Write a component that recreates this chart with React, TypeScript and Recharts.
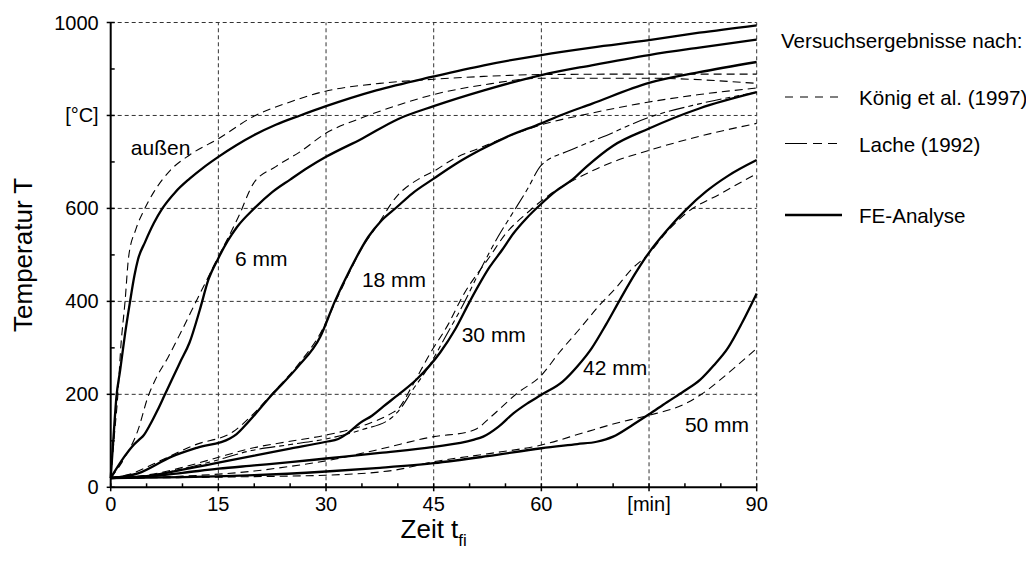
import {
  LineChart,
  Line,
  XAxis,
  YAxis,
  ReferenceLine,
  ReferenceDot,
  Legend,
  Label,
} from "recharts";

type Pt = [number, number];

// Zeit t [min] / Temperatur T [°C]
const feAussen: Pt[] = [[0, 20], [0.4, 110], [0.8, 195], [1.3, 250], [2, 330], [2.7, 400], [3.3, 455], [3.8, 490], [4.8, 528], [6, 568], [7.2, 600], [9, 635], [11, 664], [13, 689], [15, 711], [17.5, 736], [20, 758], [23, 780], [26.4, 800], [30, 820], [37, 854], [45, 884], [52, 908], [60, 930], [67, 946], [75, 962], [82, 978], [90, 994]];
const koenigAussen: Pt[] = [[0, 20], [0.5, 110], [1, 200], [1.4, 300], [2, 400], [2.5, 496], [3.5, 555], [4.6, 595], [6, 635], [8.3, 682], [11, 715], [15, 750], [19.9, 798], [25, 829], [29.6, 851], [37.5, 869], [45, 878], [52, 884], [60, 888], [75, 889], [90, 889]];

const fe6: Pt[] = [[0, 20], [1, 45], [2, 68], [3, 88], [4, 103], [4.6, 112], [5.5, 135], [6.5, 165], [7.5, 198], [8.5, 231], [9.7, 270], [11, 312], [12.4, 381], [13.6, 446], [15, 493], [16.3, 530], [17.6, 560], [20, 600], [22.5, 635], [25, 662], [27.5, 688], [30, 711], [35, 750], [40, 792], [45, 820], [52, 854], [60, 887], [67, 908], [75, 930], [82, 946], [90, 963]];
const koenig6: Pt[] = [[0, 20], [2, 65], [3.8, 123], [5.2, 195], [6.2, 231], [8, 280], [9.7, 331], [12, 403], [15, 496], [17.8, 582], [19.9, 654], [23, 690], [26.4, 722], [29.9, 761], [35, 795], [40, 822], [45, 845], [52, 866], [60, 880], [75, 880], [90, 869]];

const fe18: Pt[] = [[0, 20], [3.8, 30], [8.5, 66], [12, 85], [16.6, 105], [17.5, 114], [19.2, 141], [22.4, 198], [26, 258], [29.2, 324], [31.2, 399], [33.3, 467], [35.9, 539], [37.8, 575], [39.8, 602], [42, 632], [45, 664], [48, 695], [51.4, 725], [55.2, 754], [60, 783], [62.6, 800], [67, 825], [75, 870], [82, 893], [90, 915]];
const koenig18: Pt[] = [[0, 20], [3, 30], [6.6, 55], [11.7, 91], [17.1, 120], [19.5, 152], [22.4, 200], [26, 262], [29.2, 331], [31.5, 405], [33.5, 470], [35, 515], [37, 560], [39.8, 625], [43.1, 665], [45, 680], [47.7, 706], [51.4, 730], [55.2, 754], [59.8, 779], [67, 805], [75, 829], [82, 845], [90, 859]];

const fe30: Pt[] = [[0, 20], [5, 24], [10, 38], [15, 53], [20, 68], [25, 83], [30, 98], [31.7, 104], [33, 116], [34.7, 138], [36.4, 154], [38, 174], [40.3, 202], [42.6, 232], [45.9, 290], [48, 340], [50, 399], [52.8, 474], [54.5, 510], [56.1, 546], [58, 580], [60, 610], [62, 637], [64.4, 663], [66.3, 690], [70, 735], [75, 772], [82, 815], [90, 850]];
const koenig30: Pt[] = [[0, 20], [4, 24], [8.5, 37], [14, 60], [19.6, 84], [25, 99], [29.9, 112], [35.4, 134], [39.1, 159], [40, 168], [42, 218], [44.5, 288], [47, 350], [49.1, 413], [52.8, 496], [55, 545], [58, 590], [61, 628], [65.4, 668], [70, 700], [75, 725], [82, 755], [90, 783]];
const lache30: Pt[] = [[0, 20], [4, 23], [8, 33], [14, 55], [19.6, 79], [25, 92], [30, 104], [35, 124], [39, 148], [40.5, 172], [42, 208], [44, 252], [46.5, 320], [49, 390], [51.7, 474], [54, 540], [56, 590], [58, 640], [60, 693], [64, 725], [68.6, 754], [75, 796], [82, 825], [90, 850]];

const fe42: Pt[] = [[0, 20], [5, 23], [10, 31], [15, 40], [20, 47], [25, 54], [30, 62], [37.5, 74], [45, 87], [50.5, 102], [51.9, 109], [54, 130], [56.1, 159], [58, 180], [60, 199], [63, 228], [65, 260], [67, 299], [69, 350], [71, 405], [73, 458], [75, 505], [77.5, 553], [80.2, 598], [83, 637], [86, 670], [90, 704]];
const koenig42: Pt[] = [[0, 20], [10, 24], [20, 35], [25, 45], [30, 57], [37.5, 82], [45, 109], [50, 120], [51, 126], [53, 152], [56.6, 202], [60, 241], [62.5, 290], [65.4, 342], [68, 390], [70.5, 431], [72.5, 468], [75, 503], [77.5, 550], [80.2, 590], [85, 632], [90, 675]];

const fe50: Pt[] = [[0, 20], [10, 22], [20, 26], [30, 34], [37.5, 42], [45, 52], [52.5, 67], [60, 84], [65, 93], [67.7, 98], [70, 109], [72.5, 132], [75, 157], [77.5, 183], [79.8, 206], [82.1, 231], [84, 262], [86, 300], [88, 355], [90, 417]];
const koenig50: Pt[] = [[0, 20], [10, 21], [20, 23], [29.9, 26], [39.6, 37], [45, 55], [52.5, 72], [60, 91], [66, 118], [70, 136], [72.3, 145], [75, 155], [80.2, 181], [82.1, 198], [84.9, 231], [87.5, 265], [90, 299]];

// curve labels (text start / baseline in data units)
const curveNames = ["außen", "6 mm", "18 mm", "30 mm", "42 mm", "50 mm"];
const curveTimes = [2.8, 17.3, 35.0, 48.9, 65.8, 80.0];
const curveTemps = [715, 476, 431, 313, 241, 120];

const xTicks = [0, 5, 10, 15, 20, 25, 30, 35, 40, 45, 50, 55, 60, 65, 70, 75, 80, 85, 90];
const yTicks = [0, 100, 200, 300, 400, 500, 600, 700, 800, 900, 1000];
const xGrid = [15, 30, 45, 60, 75, 90];
const yGrid = [200, 400, 600, 800, 1000];

const legendTitle = "Versuchsergebnisse nach:";
const legendNames = ["König et al. (1997)", "Lache (1992)", "FE-Analyse"];

const FONT = "'Liberation Sans', Arial, sans-serif";
const KOENIG_DASH = "8 5";
const LACHE_DASH = "16 4 5 4 5 4";

const toRows = (pts: Pt[]) => pts.map(([t, T]) => ({ t, T }));

const series = [
  { id: "koenigAussen", pts: koenigAussen, kind: "koenig" },
  { id: "koenig6", pts: koenig6, kind: "koenig" },
  { id: "koenig18", pts: koenig18, kind: "koenig" },
  { id: "koenig30", pts: koenig30, kind: "koenig" },
  { id: "koenig42", pts: koenig42, kind: "koenig" },
  { id: "koenig50", pts: koenig50, kind: "koenig" },
  { id: "lache30", pts: lache30, kind: "lache" },
  { id: "feAussen", pts: feAussen, kind: "fe" },
  { id: "fe6", pts: fe6, kind: "fe" },
  { id: "fe18", pts: fe18, kind: "fe" },
  { id: "fe30", pts: fe30, kind: "fe" },
  { id: "fe42", pts: fe42, kind: "fe" },
  { id: "fe50", pts: fe50, kind: "fe" },
];

const XTick = (props: any) => {
  const { x, y, payload } = props;
  const v = payload.value;
  const major = v % 15 === 0;
  return (
    <g>
      <line x1={x} x2={x} y1={y - 4} y2={major ? y + 4 : y} stroke="#000" strokeWidth={1.5} />
      {major && (
        <text x={x} y={y + 24} textAnchor="middle" fontSize={20} fontFamily={FONT} fill="#000">
          {v === 75 ? "[min]" : v}
        </text>
      )}
    </g>
  );
};

const YTick = (props: any) => {
  const { x, y, payload } = props;
  const v = payload.value;
  const major = v % 200 === 0;
  return (
    <g>
      <line x1={major ? x - 4 : x} x2={x + 4} y1={y} y2={y} stroke="#000" strokeWidth={1.5} />
      {major && (
        <text x={x - 12} y={y} dy="0.35em" textAnchor="end" fontSize={20} fontFamily={FONT} fill="#000">
          {v === 800 ? "[°C]" : v}
        </text>
      )}
    </g>
  );
};

const renderXTitle = (p: any) => {
  const { x, y, width } = p.viewBox;
  return (
    <text x={x + width / 2} y={y + 51} textAnchor="middle" fontSize={26} fontFamily={FONT} fill="#000">
      Zeit t
      <tspan fontSize={17} dy={8}>fi</tspan>
    </text>
  );
};

const renderYTitle = (p: any) => {
  const { x, y, height } = p.viewBox;
  const cx = x + 15;
  const cy = y + height / 2;
  return (
    <text
      x={cx}
      y={cy}
      transform={`rotate(-90 ${cx} ${cy})`}
      textAnchor="middle"
      dominantBaseline="central"
      fontSize={26}
      fontFamily={FONT}
      fill="#000"
    >
      Temperatur T
    </text>
  );
};

const LegendBox = () => (
  <svg width={259} height={210} overflow="visible" style={{ display: "block", fontFamily: FONT }}>
    <text x={6} y={23} fontSize={20.6} fill="#000">{legendTitle}</text>
    <line x1={10} x2={67} y1={72} y2={72} stroke="#000" strokeWidth={1.2} strokeDasharray="8 7" />
    <text x={84} y={80} fontSize={20.6} fill="#000">{legendNames[0]}</text>
    <line x1={10} x2={67} y1={118.5} y2={118.5} stroke="#000" strokeWidth={1.2} strokeDasharray="22 6 9 6 9 10" />
    <text x={84} y={126.7} fontSize={20.6} fill="#000">{legendNames[1]}</text>
    <line x1={10} x2={67} y1={190} y2={190} stroke="#000" strokeWidth={2.4} />
    <text x={84} y={198.3} fontSize={20.6} fill="#000">{legendNames[2]}</text>
  </svg>
);

export default function App() {
  return (
    <div style={{ fontFamily: FONT, width: 1026, height: 548 }}>
      <LineChart width={1026} height={548} margin={{ top: 14.5, right: 277.3, left: 0, bottom: 0 }}>
        <XAxis
          type="number"
          dataKey="t"
          domain={[0, 90]}
          ticks={xTicks}
          interval={0}
          height={68.7}
          tickSize={0}
          tickMargin={0}
          tickLine={false}
          tick={<XTick />}
          axisLine={{ stroke: "#000", strokeWidth: 2 }}
        >
          <Label content={renderXTitle} />
        </XAxis>
        <YAxis
          type="number"
          domain={[0, 1000]}
          ticks={yTicks}
          interval={0}
          width={102.7}
          tickSize={0}
          tickMargin={0}
          tickLine={false}
          tick={<YTick />}
          axisLine={{ stroke: "#000", strokeWidth: 2 }}
        >
          <Label content={renderYTitle} />
        </YAxis>

        {xGrid.map((v) => (
          <ReferenceLine key={`gx${v}`} x={v} stroke="#333" strokeWidth={1} strokeDasharray="4 3" />
        ))}
        {yGrid.map((v) => (
          <ReferenceLine key={`gy${v}`} y={v} stroke="#333" strokeWidth={1} strokeDasharray="4 3" />
        ))}

        {series.map((s) => (
          <Line
            key={s.id}
            data={toRows(s.pts)}
            dataKey="T"
            type="monotone"
            stroke="#000"
            strokeWidth={s.kind === "fe" ? 2.3 : 1.1}
            strokeDasharray={s.kind === "koenig" ? KOENIG_DASH : s.kind === "lache" ? LACHE_DASH : undefined}
            dot={false}
            activeDot={false}
            legendType="none"
            isAnimationActive={false}
          />
        ))}

        {curveNames.map((name, i) => (
          <ReferenceDot
            key={name}
            x={curveTimes[i]}
            y={curveTemps[i]}
            r={0}
            shape={(p: any) => (
              <text x={p.cx} y={p.cy} fontSize={21} fontFamily={FONT} fill="#000">
                {name}
              </text>
            )}
          />
        ))}

        <Legend
          layout="vertical"
          align="center"
          verticalAlign="middle"
          wrapperStyle={{ left: 767, top: 17, width: 259, height: 210 }}
          content={() => <LegendBox />}
        />
      </LineChart>
    </div>
  );
}
